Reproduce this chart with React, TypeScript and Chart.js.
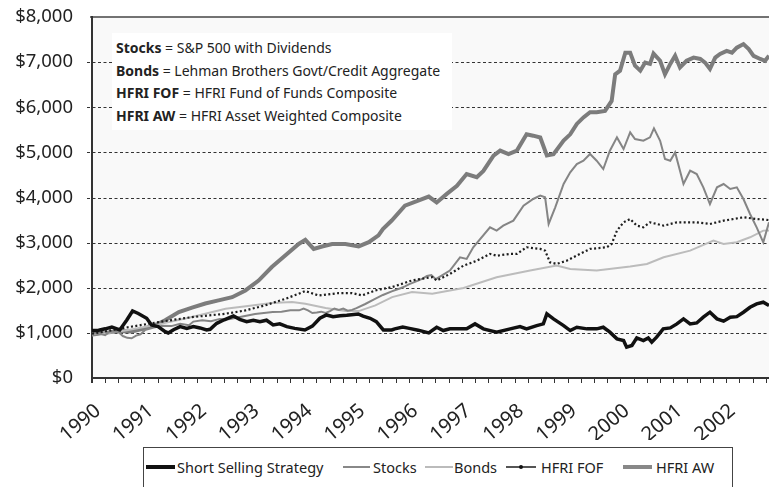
import React, { useEffect, useRef } from "react";
import { Chart, registerables } from "chart.js";

Chart.register(...registerables);

// ---- Axis definitions ----
const yearLabels = ["1990","1991","1992","1993","1994","1995","1996","1997","1998","1999","2000","2001","2002"];
const xStart = 1990;
const xEnd = 2002.8;
const yTickValues = [0, 1000, 2000, 3000, 4000, 5000, 6000, 7000, 8000];

// ---- Series (month index from Jan 1990, value in $) ----
const shortMonths = [0,1.5,3,4.5,6.3,7.9,9.2,10.5,12.4,13.5,15,16.6,17.3,18.5,20,21.5,23,24.5,26,26.8,28.3,30,32.1,33.5,35.1,36.6,38.1,39.6,41.1,42.6,44.2,46,48.3,50,51.7,53.2,54.7,56.3,57.8,60.4,61.5,63.1,64.5,66.1,68,68.7,70.5,72,74,76.4,78.2,79.7,81.2,83.5,85,86.9,88.8,91.8,94.9,97.1,98.6,100.9,102.4,103.2,104.7,107,108.5,110,112.3,114.5,116,117.5,119.1,120.6,121.3,122.5,123.6,125.1,126.2,127,128.1,129.6,131.2,132.7,134.2,135.7,137.2,138.7,140.2,141.8,143.3,144.8,146.3,147.8,149.3,150.8,152.3,153.6];
const shortValues = [1055,1060,1090,1130,1064,1286,1486,1430,1323,1175,1140,1027,998,1070,1138,1100,1140,1110,1064,1080,1212,1290,1375,1300,1249,1280,1249,1280,1175,1200,1138,1100,1064,1150,1323,1397,1360,1380,1390,1419,1370,1323,1250,1064,1064,1090,1130,1100,1060,1000,1125,1052,1089,1089,1089,1199,1089,1015,1089,1140,1089,1162,1200,1421,1310,1162,1052,1125,1089,1089,1125,1015,867,830,683,720,889,830,889,793,904,1089,1110,1199,1310,1199,1220,1347,1458,1310,1259,1347,1360,1458,1568,1642,1679,1605];

const stocksMonths = [0,1,2,3,4,5,6,7,8,9,10,11,12,14,16,18,20,22,23,25,27,29,31,33,35,37,39,41,43,45,47,48,49,50,51,52,53,54,55,56,57,58,59,60,62,64,66,68,70,71,72,73,74,75,76,77,78,81.2,83.5,85,86.5,90.3,91.8,93.3,95.6,97.9,100.1,101.7,102.8,103.6,105.1,107,108.5,110,111.5,113,114.5,116,117.5,119.1,120.6,122.1,123.2,125.1,126.6,127.5,128.9,130,131.2,132.3,134.2,135.7,137.2,138.7,140.2,141.8,143.3,144.8,146.3,147.8,149.3,150.8,152.3,153.6];
const stocksValues = [940,950,975,950,1030,1025,1020,930,890,880,940,965,1060,1120,1160,1150,1200,1170,1250,1280,1260,1310,1300,1340,1380,1420,1440,1460,1470,1500,1500,1540,1500,1440,1450,1470,1440,1480,1540,1510,1540,1490,1510,1550,1640,1740,1840,1920,1990,2030,2080,2120,2160,2200,2260,2280,2190,2380,2675,2638,2897,3339,3266,3376,3487,3819,3967,4041,4004,3413,3782,4299,4557,4742,4815,4963,4815,4631,5037,5332,5074,5443,5295,5258,5332,5531,5258,4852,4815,5000,4299,4594,4520,4225,3856,4225,4299,4188,4225,3967,3635,3339,3007,3450];

const bondsMonths = [0,7.6,15.1,22.7,30.3,36.3,40.8,45.4,48.4,53,57.5,60.5,64.3,68.1,72.6,77.2,84.3,91.8,99.4,105.4,108.5,114.5,122.1,125.9,129.7,135.7,141,143.3,146.3,149.3,152.3,153.6];
const bondsValues = [945,1055,1188,1350,1535,1609,1660,1683,1646,1550,1483,1483,1609,1793,1904,1867,1996,2232,2380,2491,2417,2380,2470,2528,2675,2823,3044,2970,3007,3118,3266,3270];

const fofMonths = [0,7.6,15.1,22.7,30.3,34.8,39.3,43.9,46.9,48.4,51.4,56,59,61.3,64.3,68.1,72.6,77.2,78.2,81.2,84.3,87.3,90.3,91.8,94.9,96.4,98.6,101.7,102.8,103.9,105.4,107.7,110.7,113,116.8,117.9,119.1,120.6,122.1,123.6,125.1,126.6,129.7,132.7,137.2,140.2,143.3,147.8,150.8,153.6];
const fofValues = [980,1114,1240,1350,1424,1498,1610,1756,1867,1926,1830,1882,1882,1830,1941,2015,2162,2236,2160,2306,2490,2600,2750,2710,2750,2750,2897,2860,2823,2565,2528,2600,2750,2860,2897,2970,3266,3450,3524,3376,3340,3450,3376,3450,3450,3413,3487,3561,3524,3500];

const awMonths = [0,3,6,9,12,15,16.6,19.7,22.7,25.7,28.7,31.8,34.8,37.8,40.8,43.9,46.9,48.4,50.3,52.2,54.5,57.5,60.5,62.8,65,66,68,71,74,76.4,78.2,80.5,82.8,85,87.3,88.8,91.1,92.6,94.5,96.4,98.6,100.1,101.7,103.2,104.7,107,108.5,110,111.5,113,114.5,116.4,117.9,118.7,119.8,121,122.1,123.2,124.4,125.5,126.6,127.4,128.9,130,131.2,132.3,133.4,134.9,136.5,138,139.1,140.2,141.4,142.5,144,145.2,146.3,147.8,149,150.1,151.6,152.7,153.6];
const awValues = [980,1000,1040,1030,1100,1200,1280,1460,1560,1650,1720,1790,1940,2160,2460,2720,2970,3060,2860,2915,2970,2970,2915,3010,3160,3300,3490,3820,3930,4020,3890,4080,4260,4520,4450,4590,4930,5040,4960,5040,5400,5370,5330,4930,4960,5260,5400,5630,5775,5890,5890,5920,6140,6730,6810,7210,7210,6920,6810,6990,6960,7190,7030,6730,6960,7140,6880,7030,7100,7070,6990,6850,7100,7180,7250,7210,7320,7400,7290,7140,7070,7030,7140];

const FONT = "'Noto Sans', 'DejaVu Sans', sans-serif";

function toPoints(months: number[], values: number[]) {
  return months.map((m, i) => ({ x: xStart + m / 12, y: values[i] }));
}

const framePlugin = {
  id: "frame",
  beforeDatasetsDraw(chart: any) {
    const { ctx, chartArea: a, scales } = chart;
    ctx.save();
    ctx.strokeStyle = "#333";
    ctx.lineWidth = 1;
    ctx.setLineDash([3, 2.5]);
    for (const v of yTickValues) {
      if (v === 0 || v === 8000) continue;
      const y = Math.round(scales.y.getPixelForValue(v)) + 0.5;
      ctx.beginPath();
      ctx.moveTo(a.left - 5, y);
      ctx.lineTo(a.right, y);
      ctx.stroke();
    }
    ctx.setLineDash([]);
    ctx.strokeStyle = "#444";
    ctx.lineWidth = 1.5;
    const yt = scales.y.getPixelForValue(8000);
    ctx.beginPath();
    ctx.moveTo(a.left - 2, yt);
    ctx.lineTo(a.right, yt);
    ctx.stroke();
    ctx.strokeStyle = "#333";
    ctx.lineWidth = 2;
    const yb = scales.y.getPixelForValue(0);
    ctx.beginPath();
    ctx.moveTo(a.left - 1, yb);
    ctx.lineTo(a.right, yb);
    ctx.stroke();
    ctx.beginPath();
    ctx.moveTo(a.left, yt - 1);
    ctx.lineTo(a.left, yb + 5);
    ctx.stroke();
    ctx.restore();
  },
  beforeDraw(chart: any) {
    const { ctx, chartArea: a } = chart;
    ctx.save();
    ctx.fillStyle = "#f9f9f9";
    ctx.fillRect(a.left, a.top, a.right - a.left, a.bottom - a.top);
    ctx.restore();
  },
};

const legendItems = [
  { label: "Short Selling Strategy", lineLeft: 2, lineWidth: 29, textLeft: 33, color: "#111", thick: 3.5, dot: false },
  { label: "Stocks", lineLeft: 199, lineWidth: 27, textLeft: 229, color: "#888", thick: 1.5, dot: false },
  { label: "Bonds", lineLeft: 281, lineWidth: 28, textLeft: 310, color: "#bbb", thick: 1.5, dot: false },
  { label: "HFRI FOF", lineLeft: 362, lineWidth: 30, textLeft: 397, color: "#555", thick: 1.5, dot: true },
  { label: "HFRI AW", lineLeft: 479, lineWidth: 29, textLeft: 512, color: "#888", thick: 4, dot: false },
];

const noteLines = [
  { bold: "Stocks", rest: " = S&P 500 with Dividends" },
  { bold: "Bonds", rest: " = Lehman Brothers Govt/Credit Aggregate" },
  { bold: "HFRI FOF", rest: " = HFRI Fund of Funds Composite" },
  { bold: "HFRI AW", rest: " = HFRI Asset Weighted Composite" },
];

export default function App() {
  const canvasRef = useRef<HTMLCanvasElement | null>(null);

  useEffect(() => {
    if (!canvasRef.current) return;
    const tickValues: number[] = [];
    for (const y of yearLabels) {
      for (let q = 0; q < 4; q++) {
        const v = Number(y) + q * 0.25;
        if (v <= xEnd) tickValues.push(v);
      }
    }
    const chart = new Chart(canvasRef.current, {
      type: "line",
      data: {
        datasets: [
          { label: "Short Selling Strategy", data: toPoints(shortMonths, shortValues), borderColor: "#111", borderWidth: 3.5, pointRadius: 0, tension: 0 },
          { label: "HFRI FOF", data: toPoints(fofMonths, fofValues), borderColor: "#1e1e1e", borderWidth: 2.2, borderDash: [2, 2.4], pointRadius: 0, tension: 0 },
          { label: "Stocks", data: toPoints(stocksMonths, stocksValues), borderColor: "#858585", borderWidth: 2, pointRadius: 0, tension: 0 },
          { label: "Bonds", data: toPoints(bondsMonths, bondsValues), borderColor: "#bcbcbc", borderWidth: 2, pointRadius: 0, tension: 0 },
          { label: "HFRI AW", data: toPoints(awMonths, awValues), borderColor: "#7c7c7c", borderWidth: 4, pointRadius: 0, tension: 0 },
        ],
      },
      options: {
        responsive: false,
        animation: false,
        devicePixelRatio: 1,
        layout: { padding: { top: 17, right: 0, left: 0, bottom: 0 } },
        plugins: { legend: { display: false }, tooltip: { enabled: false } },
        scales: {
          x: {
            type: "linear",
            min: xStart,
            max: xEnd,
            afterFit(s: any) { s.height = 62; s.paddingLeft = 0; s.paddingRight = 0; },
            afterBuildTicks(s: any) { s.ticks = tickValues.map((v) => ({ value: v })); },
            grid: { display: true, drawOnChartArea: false, drawTicks: true, tickLength: 5, color: "#333", lineWidth: 1 },
            border: { display: false },
            ticks: {
              autoSkip: false,
              maxRotation: 40,
              minRotation: 40,
              padding: 16,
              labelOffset: 6,
              color: "#222",
              font: { family: FONT, size: 20 },
              callback: (v: any) => {
                const n = Number(v);
                const idx = yearLabels.indexOf(String(Math.round(n)));
                return Math.abs(n - Math.round(n)) < 1e-6 && idx >= 0 ? yearLabels[idx] : "";
              },
            },
          },
          y: {
            min: 0,
            max: 8000,
            afterFit(s: any) { s.width = 92; s.paddingTop = 0; s.paddingBottom = 0; },
            afterBuildTicks(s: any) { s.ticks = yTickValues.map((v) => ({ value: v })); },
            grid: { display: true, drawOnChartArea: false, drawTicks: false },
            border: { display: false },
            ticks: {
              padding: 19,
              color: "#222",
              font: { family: FONT, size: 18.5 },
              callback: (v: any) => "$" + Number(v).toLocaleString("en-US"),
            },
          },
        },
      },
      plugins: [framePlugin],
    } as any);
    return () => chart.destroy();
  }, []);

  return (
    <div style={{ position: "absolute", left: 0, top: 0, width: 769, height: 487, overflow: "hidden", background: "#fff", fontFamily: FONT, color: "#222" }}>
      <canvas ref={canvasRef} width={769} height={440} style={{ position: "absolute", left: 0, top: 0, width: 769, height: 440 }} />
      <div style={{ position: "absolute", left: 112, top: 33, width: 340, height: 97, background: "#fff" }}>
        {noteLines.map((n, i) => (
          <div key={i} style={{ position: "absolute", left: 4, top: 5 + i * 22.5, fontSize: 14, lineHeight: "20px", whiteSpace: "nowrap" }}>
            <b>{n.bold}</b>{n.rest}
          </div>
        ))}
      </div>
      <div style={{ position: "absolute", left: 143, top: 447, width: 590, height: 50, border: "1px solid #444", background: "#fff", boxSizing: "border-box" }}>
        {legendItems.map((it, i) => (
          <React.Fragment key={i}>
            <div style={{ position: "absolute", left: it.lineLeft, top: 19 - it.thick / 2, width: it.lineWidth, height: it.thick, background: it.color }} />
            {it.dot && (
              <div style={{ position: "absolute", left: it.lineLeft + it.lineWidth / 2 - 2, top: 17, width: 4, height: 4, borderRadius: 2, background: "#111" }} />
            )}
            <div style={{ position: "absolute", left: it.textLeft, top: 9, fontSize: 14.5, lineHeight: "20px", whiteSpace: "nowrap" }}>{it.label}</div>
          </React.Fragment>
        ))}
      </div>
    </div>
  );
}
